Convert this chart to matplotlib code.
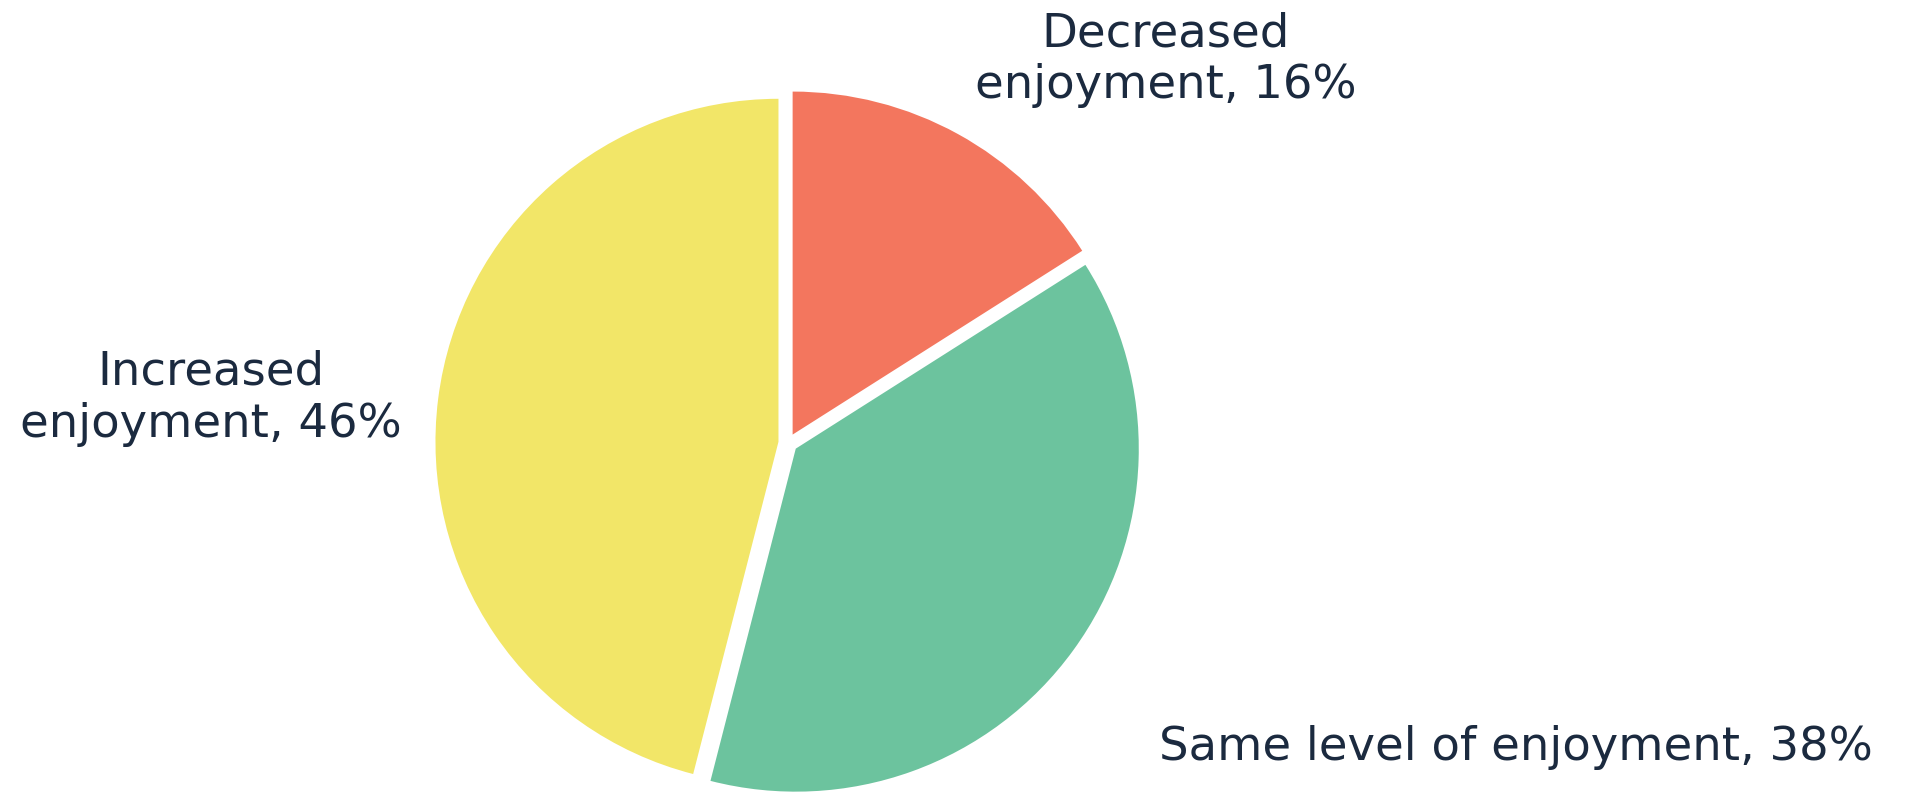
import matplotlib.pyplot as plt

labels = ['Decreased\nenjoyment, 16%', 'Same level of enjoyment, 38%', 'Increased\nenjoyment, 46%']
shares = [16, 38, 46]
colours = ['#F3765E', '#6CC39E', '#F2E668']
text_colour = '#1B2A3F'

fig = plt.figure(figsize=(19.05, 7.94), dpi=100)
fig.patch.set_facecolor('white')
ax = fig.add_axes([0, 0, 1, 1])

# pie radius in pixels and its centre, so the data units map onto the picture
r_px = 343
cx, cy = 788, 443
W, H = 1905, 794

wedges, _ = ax.pie(shares, colors=colours, startangle=90, counterclock=False,
                   explode=[0.028] * 3, radius=1,
                   wedgeprops=dict(linewidth=0))
ax.set_xlim(-cx / r_px, (W - cx) / r_px)
ax.set_ylim(-(H - cy) / r_px, cy / r_px)
ax.set_aspect('auto')
ax.axis('off')


def px(x, y):
    # figure pixel (from top-left) -> data coords
    return (x - cx) / r_px, (cy - y) / r_px


label_pos = [(1166, 60), (1516, 748), (211, 398)]
for lab, (x, y) in zip(labels, label_pos):
    dx, dy = px(x, y)
    ax.text(dx, dy, lab, ha='center', va='center', fontsize=33.5,
            color=text_colour, linespacing=1.2, family='DejaVu Sans')

fig.savefig('out.png', dpi=100, facecolor='white')
